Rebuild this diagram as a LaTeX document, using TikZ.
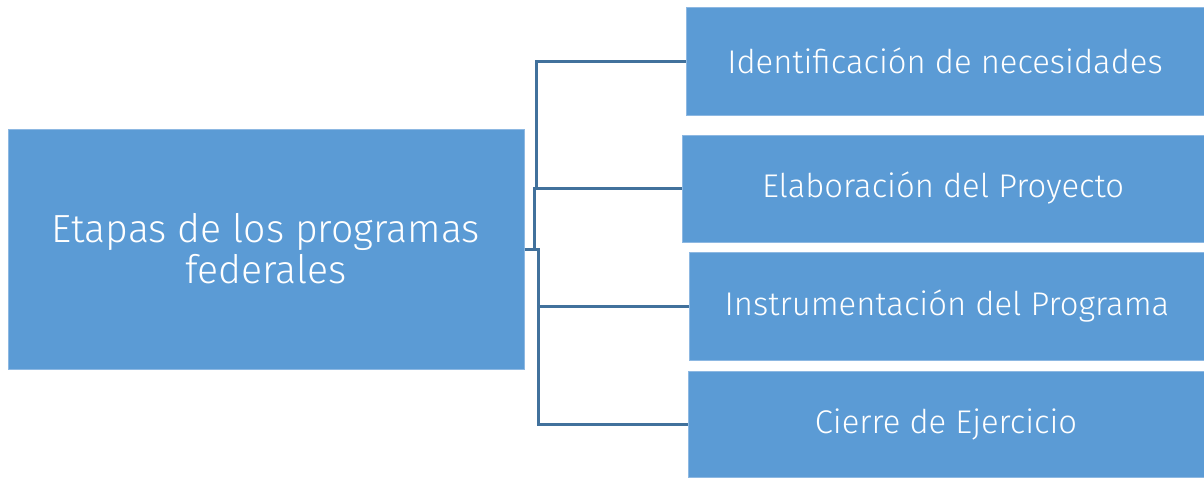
\documentclass[tikz,border=0pt]{standalone}
\usepackage{fontspec}
\setmainfont{Fira Sans Light}
\definecolor{boxfill}{HTML}{5B9BD5}
\definecolor{boxedge}{HTML}{8DB8E2}
\definecolor{conncol}{HTML}{41719C}
\begin{document}
\begin{tikzpicture}[x=1pt,y=-1pt,
  box/.style={fill=boxfill,draw=boxedge,line width=1pt,inner sep=0pt,text=white,align=center},
  stage/.style={box,font=\fontsize{32.8}{40}\selectfont},
  conn/.style={draw=conncol,line width=3pt}]
\useasboundingbox[fill=white] (0,0) rectangle (1204,477);
\node[box,font=\fontsize{39.2}{41}\selectfont,minimum width=516pt,minimum height=240pt] (m) at (266,249) {Etapas de los programas\\federales};
\node[stage,minimum width=518pt,minimum height=108pt] (a) at (945,61) {Identificación de necesidades};
\node[stage,minimum width=522pt,minimum height=107pt] (b) at (943,188.5) {Elaboración del Proyecto};
\node[stage,minimum width=516pt,minimum height=108pt] (c) at (947,306) {Instrumentación del Programa};
\node[stage,minimum width=516pt,minimum height=106pt] (d) at (946,424) {Cierre de Ejercicio};
\draw[conn] (m.east) -- ++(10,0) coordinate (j) |- (b.west);
\draw[conn] ([xshift=2pt]j |- b.west) |- (a.west);
\draw[conn] (m.east) -- ++(14,0) coordinate (k) |- (c.west);
\draw[conn] (k) |- (d.west);
\end{tikzpicture}
\end{document}
